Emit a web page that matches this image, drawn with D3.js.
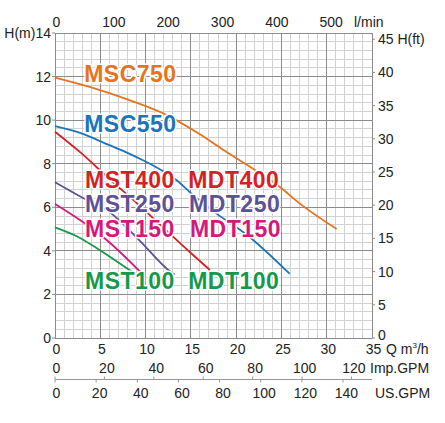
<!DOCTYPE html>
<html><head><meta charset="utf-8">
<script src="https://cdn.jsdelivr.net/npm/d3@7"></script>
<style>
body{margin:0;background:#fff;}
svg{display:block;font-family:"Liberation Sans",Arial,Helvetica,sans-serif;}
</style></head>
<body>
<svg id="chart" width="445" height="423"></svg>
<script>
// ---------- data ----------
const qTicks = [0,5,10,15,20,25,30,35];           // m3/h
const hTicks = [0,2,4,6,8,10,12,14];              // m
const lpmTicks = [0,100,200,300,400,500];         // l/min
const ftTicks = [0,5,10,15,20,25,30,35,40,45];    // ft
const impTicks = [0,20,40,60,80,100,120];         // Imp.GPM
const usTicks = [0,20,40,60,80,100,120,140];      // US.GPM

const msc750Q = [0,4,8,12,16,18.6,21,24.8,27,31.1];
const msc750H = [11.95,11.5,10.95,10.3,9.35,8.63,8.0,6.94,6.18,5.0];
const msc550Q = [0,3,6,8,10,12.3,13.4,15,17.8,21.2,25.9];
const msc550H = [9.72,9.38,8.85,8.5,8.1,7.56,7.25,6.65,5.72,4.73,2.95];
const mst400Q = [0,3,6,9,12,15,17.1];
const mst400H = [9.47,8.45,7.3,6.2,5.05,3.9,3.12];
const mst250Q = [0,3,5.8,9.4,12.5,13.2];
const mst250H = [7.15,6.45,5.85,4.45,3.12,2.9];
const mst150Q = [0,2.8,5.7,9.5];
const mst150H = [6.15,5.4,4.5,3.0];
const mst100Q = [0,2.5,5,8.5];
const mst100H = [5.08,4.65,4.02,3.04];

const seriesNames = ["MSC750","MSC550","MST400","MST250","MST150","MST100"];
const seriesColors = ["#e8731c","#1b75bb","#d71f26","#5d5197","#d5197a","#16994a"];
const seriesQ = [msc750Q,msc550Q,mst400Q,mst250Q,mst150Q,mst100Q];
const seriesH = [msc750H,msc550H,mst400H,mst250H,mst150H,mst100H];

// label texts: [first, second]
const labelTexts = [["MSC750",""],["MSC550",""],["MST400","MDT400"],["MST250","MDT250"],["MST150","MDT150"],["MST100","MDT100"]];
// label anchors in data units (Q for x, H for baseline)
const labelQ1 = [3.22,3.22,3.31,3.31,3.31,3.31];
const labelQ2 = [0,0,14.7,14.8,14.9,14.7];
const labelH  = [11.74,9.45,6.88,5.78,4.64,2.23];

// ---------- scales ----------
const x = d3.scaleLinear().domain([0,35]).range([55,372]);
const y = d3.scaleLinear().domain([0,14]).range([338,33]);
const M3H_PER_LPM = 0.06, M_PER_FT = 0.3048, M3H_PER_IMP = 1/3.666, M3H_PER_US = 1/4.403;
const xl = d3.scaleLinear().domain([0,35/M3H_PER_LPM]).range(x.range());
const yft = d3.scaleLinear().domain([0,14/M_PER_FT]).range(y.range());
const xImp = d3.scaleLinear().domain([0,35/M3H_PER_IMP]).range(x.range());
const xUs = d3.scaleLinear().domain([0,35/M3H_PER_US]).range(x.range());

const svg = d3.select("#chart");
const fs = 14;

// ---------- grid ----------
const g = svg.append("g");
const minorQ = d3.range(0,35.001,1);
const minorH = d3.range(0,14.001,0.4);
g.selectAll("line.mv").data(minorQ).join("line")
  .attr("x1",d=>x(d)).attr("x2",d=>x(d)).attr("y1",y(0)).attr("y2",y(14))
  .attr("stroke","#d2d2d2").attr("stroke-width",1)
  .attr("shape-rendering","crispEdges");
g.selectAll("line.mh").data(minorH).join("line")
  .attr("y1",d=>y(d)).attr("y2",d=>y(d)).attr("x1",x(0)).attr("x2",x(35))
  .attr("stroke","#d2d2d2").attr("stroke-width",1)
  .attr("shape-rendering","crispEdges");
g.selectAll("line.jv").data(qTicks).join("line")
  .attr("x1",d=>x(d)).attr("x2",d=>x(d)).attr("y1",y(0)).attr("y2",y(14))
  .attr("stroke","#8c8c8c").attr("shape-rendering","crispEdges");
g.selectAll("line.jh").data(hTicks).join("line")
  .attr("y1",d=>y(d)).attr("y2",d=>y(d)).attr("x1",x(0)).attr("x2",x(35))
  .attr("stroke","#8c8c8c").attr("shape-rendering","crispEdges");

// ---------- axes text ----------
const txt = svg.append("g").attr("font-size",fs).attr("fill","#222");
// left
txt.selectAll("text.l").data(hTicks).join("text")
  .attr("x",51).attr("y",d=>y(d)+5).attr("text-anchor","end")
  .text(d=>d===14?"H(m)14":d);
svg.selectAll("line.lt").data(hTicks).join("line")
  .attr("x1",52).attr("x2",55).attr("y1",d=>y(d)).attr("y2",d=>y(d)).attr("stroke","#8c8c8c");
// right
txt.selectAll("text.r").data(ftTicks).join("text")
  .attr("x",378).attr("y",d=>yft(d)+(d===0?2:5)).attr("text-anchor","start")
  .text(d=>d===45?"45 H(ft)":d);
svg.selectAll("line.rt").data(ftTicks).join("line")
  .attr("x1",372).attr("x2",375).attr("y1",d=>yft(d)).attr("y2",d=>yft(d)).attr("stroke","#8c8c8c");
// top l/min
txt.selectAll("text.t").data(lpmTicks).join("text")
  .attr("x",d=>xl(d)+(d===0?1.5:4.5)).attr("y",27).attr("text-anchor","middle").text(d=>d);
txt.append("text").attr("x",354).attr("y",27).text("l/min");
// bottom m3/h
txt.selectAll("text.b").data(qTicks).join("text")
  .attr("x",d=>x(d)+1.5).attr("y",354).attr("text-anchor","middle").text(d=>d);
const qt = txt.append("text").attr("x",386).attr("y",354);
qt.append("tspan").text("Q m");
qt.append("tspan").attr("font-size",8).attr("dy",-6).text("3");
qt.append("tspan").attr("dy",6).text("/h");
// Imp.GPM
txt.selectAll("text.i").data(impTicks).join("text")
  .attr("x",d=>xImp(d)+(d===0?1.5:2.5)).attr("y",372.5).attr("text-anchor","middle").text(d=>d);
txt.append("text").attr("x",370).attr("y",372.5).text("Imp.GPM");
// separator line
svg.append("line").attr("x1",x(0)).attr("x2",x(35)).attr("y1",379.5).attr("y2",379.5)
  .attr("stroke","#999").attr("stroke-width",1.2);
svg.selectAll("line.it").data(impTicks).join("line")
  .attr("x1",d=>xImp(d)).attr("x2",d=>xImp(d)).attr("y1",376.5).attr("y2",379.5).attr("stroke","#999");
svg.selectAll("line.ut").data(usTicks).join("line")
  .attr("x1",d=>xUs(d)).attr("x2",d=>xUs(d)).attr("y1",379.5).attr("y2",382.5).attr("stroke","#999");
// US.GPM
txt.selectAll("text.u").data(usTicks).join("text")
  .attr("x",d=>xUs(d)+(d===0?1.5:3.5)).attr("y",398).attr("text-anchor","middle").text(d=>d);
txt.append("text").attr("x",375).attr("y",398).text("US.GPM");

// ---------- curves ----------
const line = d3.line().x(d=>x(d[0])).y(d=>y(d[1])).curve(d3.curveMonotoneX);
seriesQ.forEach((qs,i)=>{
  const pts = qs.map((q,j)=>[q,seriesH[i][j]]);
  svg.append("path").attr("d",line(pts)).attr("fill","none")
    .attr("stroke",seriesColors[i]).attr("stroke-width",1.8);
});

// ---------- labels ----------
const lab = svg.append("g").attr("font-size",23).attr("font-weight","bold")
  .attr("letter-spacing",0.5).attr("stroke","#fff").attr("stroke-width",3)
  .attr("paint-order","stroke").attr("stroke-linejoin","round");
labelTexts.forEach((t,i)=>{
  lab.append("text").attr("x",x(labelQ1[i])).attr("y",y(labelH[i]))
    .attr("fill",seriesColors[i]).text(t[0]);
  if(t[1]) lab.append("text").attr("x",x(labelQ2[i])).attr("y",y(labelH[i]))
    .attr("fill",seriesColors[i]).text(t[1]);
});
</script>
</body></html>
